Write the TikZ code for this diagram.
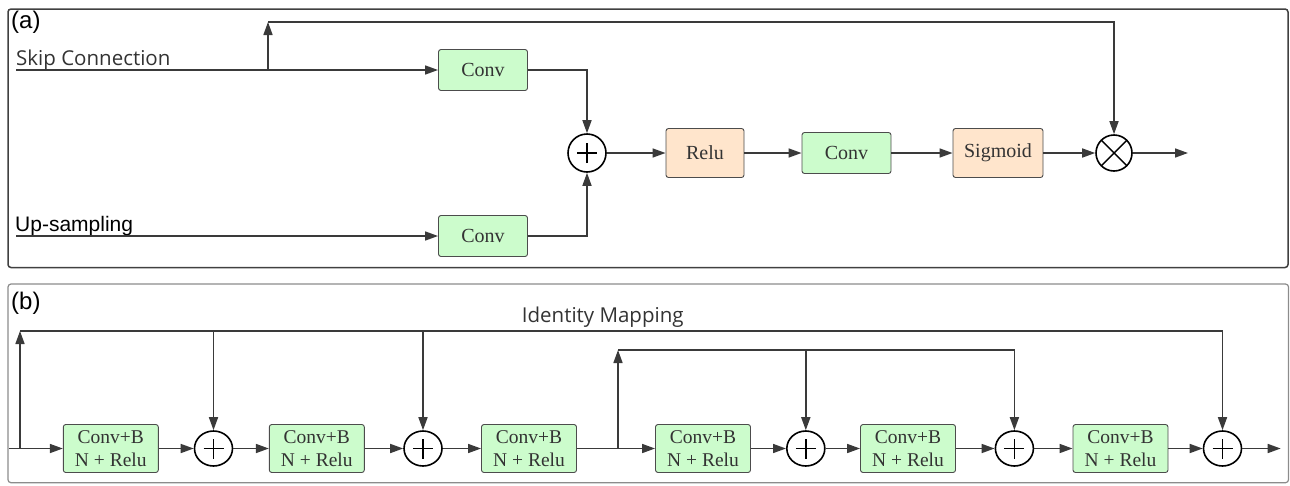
\documentclass[tikz,border=0pt]{standalone}
\usepackage{fontspec}
\setmainfont{Liberation Serif}
\newfontfamily\arialf{Liberation Sans}
\newfontfamily\hsans{Open Sans}
\usetikzlibrary{arrows.meta,shapes.geometric}
\definecolor{gfill}{HTML}{CCFCCC}
\definecolor{pfill}{HTML}{FFE5CC}
\definecolor{lnc}{HTML}{3A3A3A}
\tikzset{
  ln/.style={line width=1.6pt, draw=lnc},
  arr/.style={ln, -{Triangle[length=13pt,width=9pt]}},
  blk/.style={draw=black!70, line width=0.9pt, rounded corners=2.5pt, inner sep=0pt, text=black!80},
  gblk/.style={blk, fill=gfill, minimum width=89pt, minimum height=41pt, font=\fontsize{20}{22}\selectfont},
  pblk/.style={blk, fill=pfill, minimum height=49pt, font=\fontsize{20}{22}\selectfont},
  bblk/.style={blk, fill=gfill, minimum width=95pt, minimum height=48pt, align=center, font=\fontsize{19.5}{23}\selectfont},
  addop/.style={draw=black, line width=1.6pt, fill=white, inner sep=0pt,
    path picture={\draw[line width=1.4pt] ([xshift=-10pt]path picture bounding box.center) -- ([xshift=10pt]path picture bounding box.center);
                  \draw[line width=1.4pt] ([yshift=-10pt]path picture bounding box.center) -- ([yshift=10pt]path picture bounding box.center);}},
  addA/.style={addop, circle, minimum size=38pt},
  addB/.style={addop, ellipse, minimum width=38pt, minimum height=35pt},
  mulop/.style={draw=black, line width=1.6pt, fill=white, circle, minimum size=36pt, inner sep=0pt,
    path picture={\draw[line width=1.4pt] ([shift={(-12.7pt,-12.7pt)}]path picture bounding box.center) -- ([shift={(12.7pt,12.7pt)}]path picture bounding box.center);
                  \draw[line width=1.4pt] ([shift={(-12.7pt,12.7pt)}]path picture bounding box.center) -- ([shift={(12.7pt,-12.7pt)}]path picture bounding box.center);}},
  frm/.style={rounded corners=3pt}
}
\begin{document}
\begin{tikzpicture}[x=1pt,y=-1pt]
\useasboundingbox (0,0) rectangle (1290,485);
% ---------- panel (a)
\draw[frm, draw=black!75, line width=1.5pt] (8,9) rectangle (1288,267.5);
\node[anchor=base west, inner sep=0pt, font=\arialf\fontsize{24}{26}\selectfont] (la) at (11,28) {(a)};
\node[anchor=base west, inner sep=0pt, font=\hsans\fontsize{20.5}{24}\selectfont, text=black!80] (skt) at (16,65) {Skip Connection};
\node[anchor=base west, inner sep=0pt, font=\arialf\fontsize{21}{24}\selectfont] (upt) at (15,231.5) {Up-sampling};

\node[gblk] (c1) at (483,70) {Conv};
\node[gblk] (c2) at (483,236) {Conv};
\node[addA] (add) at (587,153) {};
\node[pblk, minimum width=78pt] (relu) at (705,153) {Relu};
\node[gblk] (c3) at (846.5,153) {Conv};
\node[pblk, minimum width=90pt] (sig) at (998,153) {Sigmoid};
\node[mulop] (mul) at (1114,153) {};

\coordinate (s0) at (16,70);
\coordinate (br) at (268,70);
\coordinate (tl) at (268,22);
\coordinate (u0) at (16,236);
\coordinate (outa) at (1188,153);

\draw[arr] (s0) -- (c1);
\draw[arr] (br) -- (tl);
\draw[arr] (tl) -| (mul);
\draw[arr] (u0) -- (c2);
\draw[arr] (c1) -| (add);
\draw[arr] (c2) -| (add);
\draw[arr] (add) -- (relu);
\draw[arr] (relu) -- (c3);
\draw[arr] (c3) -- (sig);
\draw[arr] (sig) -- (mul);
\draw[arr] (mul) -- (outa);

% ---------- panel (b)
\draw[frm, draw=black!45, line width=1.2pt] (8,284) rectangle (1288.5,482.7);
\node[anchor=base west, inner sep=0pt, font=\arialf\fontsize{24}{26}\selectfont] (lb) at (11,309) {(b)};
\node[anchor=base west, inner sep=0pt, font=\hsans\fontsize{20.5}{24}\selectfont, text=black!80] (idm) at (521.7,322) {Identity Mapping};

\node[bblk] (b1) at (110.8,448.5) {Conv+B\\N + Relu};
\node[addB] (q1) at (213.5,448.5) {};
\node[bblk] (b2) at (316.8,448.5) {Conv+B\\N + Relu};
\node[addB] (q2) at (423,448.5) {};
\node[bblk] (b3) at (529,448.5) {Conv+B\\N + Relu};
\node[bblk] (b4) at (703,448.5) {Conv+B\\N + Relu};
\node[addB] (q3) at (805.8,448.5) {};
\node[bblk] (b5) at (908,448.5) {Conv+B\\N + Relu};
\node[addB] (q4) at (1014.4,448.5) {};
\node[bblk] (b6) at (1120.5,448.5) {Conv+B\\N + Relu};
\node[addB] (q5) at (1222.5,448.5) {};

\coordinate (in0) at (9,448.5);
\coordinate (up0) at (20,448.5);
\coordinate (top0) at (20,331);
\coordinate (br2) at (618,448.5);
\coordinate (top2) at (618,350);
\coordinate (outb) at (1280.7,448.5);

\draw[arr] (in0) -- (b1);
\draw[arr] (up0) -- (top0);
\draw[arr] (top0) -| (q5);
\draw[arr] (q1|-top0) -- (q1);
\draw[arr] (q2|-top0) -- (q2);
\draw[arr] (b1) -- (q1);
\draw[arr] (q1) -- (b2);
\draw[arr] (b2) -- (q2);
\draw[arr] (q2) -- (b3);
\draw[arr] (b3) -- (b4);
\draw[arr] (br2) -- (top2);
\draw[arr] (top2) -| (q4);
\draw[arr] (q3|-top2) -- (q3);
\draw[arr] (b4) -- (q3);
\draw[arr] (q3) -- (b5);
\draw[arr] (b5) -- (q4);
\draw[arr] (q4) -- (b6);
\draw[arr] (b6) -- (q5);
\draw[arr] (q5) -- (outb);
\end{tikzpicture}
\end{document}
